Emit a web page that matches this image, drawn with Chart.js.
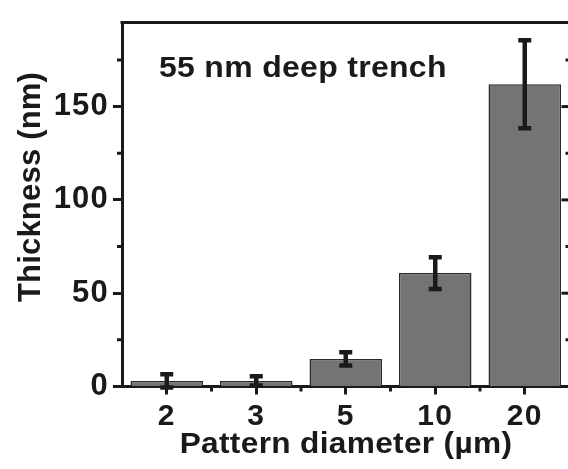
<!DOCTYPE html>
<html>
<head>
<meta charset="utf-8">
<script src="https://cdn.jsdelivr.net/npm/chart.js@4/dist/chart.umd.min.js"></script>
<style>
  html, body { margin: 0; padding: 0; background: #fff; overflow: hidden; }
  #wrap { width: 572px; height: 469px; position: relative; }
</style>
</head>
<body>
<div id="wrap"><canvas id="c"></canvas></div>
<script>
// ---- data ----
const categories = ['2', '3', '5', '10', '20'];
const thickness = [3, 3, 14.8, 60.8, 162];
const errors = [3.5, 2.5, 3.5, 8.5, 23.6];
const yMajorTicks = [0, 50, 100, 150];
const yMinorTicks = [25, 75, 125, 175];
const xTitle = 'Pattern diameter (µm)';
const yTitle = 'Thickness (nm)';
const annotation = '55 nm deep trench';

const INK = '#1a1a1a';
const FONT = "'Liberation Sans', Arial, sans-serif";

function stretchedText(ctx, text, x, y, sx, align) {
  ctx.save();
  ctx.translate(x, y);
  ctx.scale(sx, 1);
  ctx.textAlign = align;
  ctx.fillText(text, 0, 0);
  ctx.restore();
}

const deco = {
  id: 'deco',
  beforeDraw(chart) {
    chart.ctx.letterSpacing = '1.2px';
  },
  afterDatasetsDraw(chart) {
    const ctx = chart.ctx;
    const meta = chart.getDatasetMeta(0);
    const y = chart.scales.y;
    ctx.save();
    ctx.strokeStyle = INK;
    ctx.lineWidth = 4.5;
    ctx.lineCap = 'butt';
    meta.data.forEach((bar, i) => {
      const x = bar.x;
      const yt = y.getPixelForValue(thickness[i] + errors[i]);
      const yb = y.getPixelForValue(thickness[i] - errors[i]);
      ctx.beginPath();
      ctx.moveTo(x, yt); ctx.lineTo(x, yb);
      ctx.moveTo(x - 6.5, yt); ctx.lineTo(x + 6.5, yt);
      ctx.moveTo(x - 6.5, yb); ctx.lineTo(x + 6.5, yb);
      ctx.stroke();
    });
    ctx.restore();
  },
  afterDraw(chart) {
    const ctx = chart.ctx;
    const a = chart.chartArea;
    const xs = chart.scales.x, ys = chart.scales.y;
    ctx.save();
    ctx.strokeStyle = INK;
    ctx.lineWidth = 3;
    // top border
    ctx.beginPath();
    ctx.moveTo(a.left - 1.5, a.top); ctx.lineTo(a.right + 2, a.top);
    ctx.stroke();
    // right axis line
    ctx.beginPath();
    ctx.moveTo(a.right, a.top); ctx.lineTo(a.right, a.bottom);
    ctx.stroke();
    // minor y ticks (left, outward) and right axis ticks (inward)
    yMinorTicks.forEach(v => {
      const p = ys.getPixelForValue(v);
      ctx.beginPath();
      ctx.moveTo(a.left - 5, p); ctx.lineTo(a.left, p);
      ctx.moveTo(a.right - 4, p); ctx.lineTo(a.right, p);
      ctx.stroke();
    });
    yMajorTicks.forEach(v => {
      const p = ys.getPixelForValue(v);
      ctx.beginPath();
      ctx.moveTo(a.right - 8, p); ctx.lineTo(a.right, p);
      ctx.stroke();
    });
    // minor x ticks at category boundaries
    for (let i = 0; i < categories.length - 1; i++) {
      const p = (xs.getPixelForValue(i) + xs.getPixelForValue(i + 1)) / 2;
      ctx.beginPath();
      ctx.moveTo(p, a.bottom); ctx.lineTo(p, a.bottom + 5);
      ctx.stroke();
    }
    // texts
    ctx.fillStyle = INK;
    ctx.font = 'bold 30px ' + FONT;
    ctx.letterSpacing = '0.3px';
    ctx.textBaseline = 'alphabetic';
    stretchedText(ctx, annotation, 159, 77, 1.065, 'left');
    stretchedText(ctx, xTitle, 346, 453, 1.055, 'center');
    // y title
    ctx.save();
    ctx.translate(40, 187);
    ctx.rotate(-Math.PI / 2);
    ctx.letterSpacing = '0.2px';
    ctx.font = 'bold 31px ' + FONT;
    ctx.textAlign = 'center';
    ctx.fillText(yTitle, 0, 0);
    ctx.restore();
    ctx.restore();
  }
};

new Chart(document.getElementById('c'), {
  type: 'bar',
  data: {
    labels: categories,
    datasets: [{
      data: thickness,
      backgroundColor: '#747474',
      borderColor: '#2a2a2a',
      borderWidth: 1.5,
      borderSkipped: 'start',
      barPercentage: 0.81,
      categoryPercentage: 1.0
    }]
  },
  options: {
    responsive: true,
    maintainAspectRatio: false,
    animation: false,
    events: [],
    layout: { padding: { top: 14, left: 0, right: 2.5, bottom: 0 } },
    plugins: { legend: { display: false }, tooltip: { enabled: false } },
    scales: {
      x: {
        offset: true,
        afterFit(s) { s.height = 82.5; },
        grid: {
          offset: false,
          drawOnChartArea: false,
          drawTicks: true,
          tickLength: 8,
          tickWidth: 3,
          tickColor: INK
        },
        border: { display: true, color: INK, width: 3 },
        ticks: {
          color: INK,
          padding: 4,
          font: { family: FONT, size: 30, weight: 'bold' },
          maxRotation: 0
        }
      },
      y: {
        min: 0,
        max: 195,
        afterFit(s) { s.width = 122; },
        afterBuildTicks(s) { s.ticks = yMajorTicks.map(v => ({ value: v })); },
        grid: {
          drawOnChartArea: false,
          drawTicks: true,
          tickLength: 9,
          tickWidth: 3,
          tickColor: INK
        },
        border: { display: true, color: INK, width: 3 },
        ticks: {
          color: INK,
          padding: 4,
          font: { family: FONT, size: 31, weight: 'bold' }
        }
      }
    }
  },
  plugins: [deco]
});
</script>
</body>
</html>
